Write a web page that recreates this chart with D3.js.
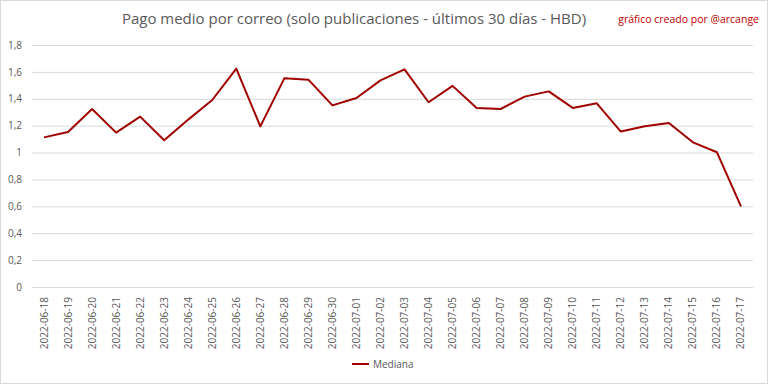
<!DOCTYPE html>
<html>
<head>
<meta charset="utf-8">
<script src="https://cdn.jsdelivr.net/npm/d3@7"></script>
<style>
  body { margin: 0; background: #fff; }
  text { font-family: "Open Sans", "Liberation Sans", sans-serif; }
</style>
</head>
<body>
<div id="chart"></div>
<script>
const svgWidth = 768;
const svgHeight = 384;

// data
const dates = [
  "2022-06-18", "2022-06-19", "2022-06-20", "2022-06-21", "2022-06-22", "2022-06-23",
  "2022-06-24", "2022-06-25", "2022-06-26", "2022-06-27", "2022-06-28", "2022-06-29",
  "2022-06-30", "2022-07-01", "2022-07-02", "2022-07-03", "2022-07-04", "2022-07-05",
  "2022-07-06", "2022-07-07", "2022-07-08", "2022-07-09", "2022-07-10", "2022-07-11",
  "2022-07-12", "2022-07-13", "2022-07-14", "2022-07-15", "2022-07-16", "2022-07-17"
];
const mediana = [
  1.113, 1.153, 1.324, 1.148, 1.267, 1.091,
  1.245, 1.391, 1.624, 1.195, 1.552, 1.542,
  1.351, 1.406, 1.537, 1.619, 1.374, 1.496,
  1.332, 1.324, 1.416, 1.455, 1.332, 1.366,
  1.156, 1.195, 1.220, 1.076, 1.002, 0.600
];
const yTicks = [0, 0.2, 0.4, 0.6, 0.8, 1, 1.2, 1.4, 1.6, 1.8];

const titleText = "Pago medio por correo (solo publicaciones - últimos 30 días - HBD)";
const creditText = "gráfico creado por @arcange";
const seriesName = "Mediana";

const margin = { top: 45, right: 15, bottom: 97, left: 32 };
const width = svgWidth - margin.left - margin.right;
const height = svgHeight - margin.top - margin.bottom;

const svg = d3.select("#chart")
  .append("svg")
  .attr("width", svgWidth)
  .attr("height", svgHeight);

// outer frame
svg.append("rect")
  .attr("x", 0.5)
  .attr("y", 0.5)
  .attr("width", svgWidth - 1)
  .attr("height", svgHeight - 1)
  .attr("fill", "#fff")
  .attr("stroke", "#d9d9d9");

svg.append("text")
  .attr("x", 354)
  .attr("y", 24)
  .attr("text-anchor", "middle")
  .attr("font-size", 15)
  .attr("fill", "#595959")
  .text(titleText);

svg.append("text")
  .attr("x", 759)
  .attr("y", 23)
  .attr("text-anchor", "end")
  .attr("font-size", 10.5)
  .attr("fill", "#c00000")
  .text(creditText);

const chartGroup = svg.append("g")
  .attr("transform", `translate(${margin.left}, ${margin.top})`);

const xScale = d3.scaleBand()
  .domain(dates)
  .range([0, width]);

const yScale = d3.scaleLinear()
  .domain([0, 1.8])
  .range([height, 0]);

const fmt = d => d3.format("")(d).replace(".", ",");

// grid lines + y labels
const leftAxis = d3.axisLeft(yScale)
  .tickValues(yTicks)
  .tickSize(-width)
  .tickPadding(10)
  .tickFormat(fmt);

const yAxis = chartGroup.append("g").call(leftAxis);
yAxis.select(".domain").remove();
yAxis.selectAll(".tick line")
  .attr("stroke", "#d9d9d9")
  .attr("stroke-width", 1);
yAxis.selectAll(".tick text")
  .attr("fill", "#595959")
  .attr("font-size", 10);

// x labels
const bottomAxis = d3.axisBottom(xScale).tickSize(0).tickPadding(0);
const xAxis = chartGroup.append("g")
  .attr("transform", `translate(0, ${height})`)
  .call(bottomAxis);
xAxis.select(".domain").remove();
xAxis.selectAll(".tick text")
  .attr("fill", "#595959")
  .attr("font-size", 10)
  .attr("text-anchor", "end")
  .attr("transform", "rotate(-90)")
  .attr("x", -10)
  .attr("y", 0)
  .attr("dy", "0.35em");

// the line
const line = d3.line()
  .x((d, i) => xScale(dates[i]) + xScale.bandwidth() / 2)
  .y(d => yScale(d));

chartGroup.append("path")
  .datum(mediana)
  .attr("fill", "none")
  .attr("stroke", "#a00000")
  .attr("stroke-width", 2)
  .attr("stroke-linejoin", "round")
  .attr("d", line);

// legend
const legend = svg.append("g")
  .attr("transform", "translate(352, 364)");
legend.append("line")
  .attr("x1", 0)
  .attr("x2", 17)
  .attr("stroke", "#a00000")
  .attr("stroke-width", 2);
legend.append("text")
  .attr("x", 21)
  .attr("dy", "0.35em")
  .attr("font-size", 10)
  .attr("fill", "#595959")
  .text(seriesName);
</script>
</body>
</html>
